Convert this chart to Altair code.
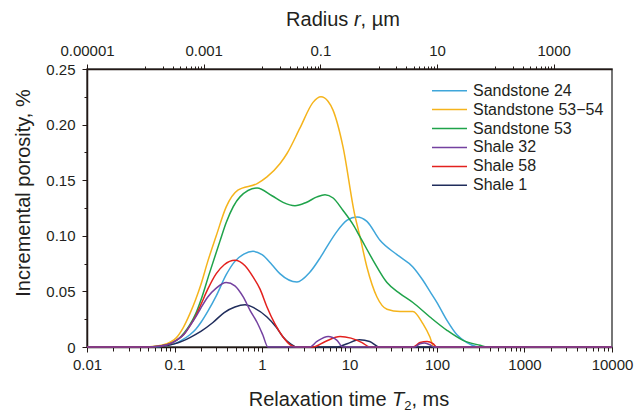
import altair as alt
import pandas as pd

FONT = "Liberation Sans"
INK = "#231f20"

# ---- series (legend order) -------------------------------------------------
series_names = ["Sandstone 24", "Standstone 53\u221254", "Sandstone 53",
                "Shale 32", "Shale 58", "Shale 1"]
series_colors = ["#3fa6da", "#f5b41c", "#1fa34a", "#7441a0", "#e3211e", "#202d5c"]

# T2 relaxation time (ms) and incremental porosity (%) for each sample
sandstone24_t = [0.01, 0.055, 0.07, 0.085, 0.1, 0.12, 0.15, 0.175, 0.2, 0.24, 0.3,
                 0.39, 0.49, 0.62, 0.79, 1.0, 1.3, 1.6, 2.51, 3.5, 4.6, 5.6, 7.2, 9.4,
                 12.2, 15.8, 22.3, 34.9, 53, 69, 83, 100, 130, 169, 220, 280, 320, 10000]
sandstone24_v = [0, 0, 0.0005, 0.0015, 0.003, 0.006, 0.011, 0.016, 0.022, 0.032, 0.046,
                 0.065, 0.077, 0.0835, 0.086, 0.083, 0.074, 0.066, 0.0585, 0.067, 0.080, 0.091, 0.104, 0.114,
                 0.117, 0.113, 0.096, 0.083, 0.072, 0.060, 0.050, 0.040, 0.024, 0.011, 0.004, 0.0005, 0, 0]

standstone5354_t = [0.01, 0.045, 0.06, 0.075, 0.09, 0.104, 0.125, 0.15, 0.175, 0.2, 0.24,
                    0.30, 0.39, 0.53, 0.88, 1.14, 1.61, 1.93, 2.72, 3.83, 4.72, 5.68, 6.48,
                    8.43, 11.4, 13.2, 15.8, 20.6, 26.8, 37.8, 53, 69, 83, 92, 10000]
standstone5354_v = [0, 0, 0.0006, 0.002, 0.0045, 0.008, 0.017, 0.030, 0.043, 0.056, 0.077,
                    0.100, 0.126, 0.141, 0.147, 0.153, 0.165, 0.174, 0.197, 0.220, 0.225, 0.221, 0.213,
                    0.180, 0.120, 0.099, 0.072, 0.045, 0.034, 0.032, 0.032, 0.021, 0.009, 0, 0]

sandstone53_t = [0.01, 0.05, 0.065, 0.08, 0.095, 0.11, 0.13, 0.15, 0.175, 0.2, 0.25,
                 0.33, 0.39, 0.56, 0.88, 1.3, 1.74, 2.38, 3.2, 4.25, 5.25, 6.5, 8.4,
                 11, 13.2, 18.6, 26.8, 37.8, 53, 83, 130, 198, 310, 373, 10000]
sandstone53_v = [0, 0, 0.0006, 0.0018, 0.004, 0.007, 0.013, 0.020, 0.030, 0.042, 0.066,
                 0.095, 0.112, 0.135, 0.143, 0.136, 0.130, 0.127, 0.130, 0.135, 0.137, 0.134, 0.123,
                 0.110, 0.099, 0.078, 0.058, 0.048, 0.040, 0.027, 0.015, 0.006, 0.0015, 0, 0]

shale32_t = [0.01, 0.05, 0.065, 0.08, 0.095, 0.11, 0.13, 0.15, 0.175, 0.2, 0.24, 0.3,
             0.39, 0.49, 0.61, 0.73, 0.88, 1.02, 1.17, 3.5, 4.25, 5.7, 7.2, 8.4,
             55, 64, 72, 83, 92, 10000]
shale32_v = [0, 0, 0.0006, 0.0018, 0.004, 0.007, 0.012, 0.019, 0.027, 0.035, 0.045, 0.053,
             0.058, 0.055, 0.045, 0.033, 0.022, 0.011, 0, 0, 0.005, 0.0095, 0.006, 0,
             0, 0.003, 0.0035, 0.002, 0, 0]

shale58_t = [0.01, 0.05, 0.065, 0.08, 0.095, 0.11, 0.13, 0.15, 0.175, 0.2, 0.24, 0.3,
             0.37, 0.49, 0.64, 0.79, 0.95, 1.14, 1.4, 1.74, 2.1, 2.5, 3.8, 5.3, 7.8,
             10.4, 13.9, 17.1, 53, 64, 77, 90, 100, 10000]
shale58_v = [0, 0, 0.0006, 0.0018, 0.004, 0.007, 0.012, 0.019, 0.028, 0.038, 0.052, 0.066,
             0.074, 0.078, 0.073, 0.063, 0.052, 0.036, 0.021, 0.009, 0.002, 0, 0, 0.005, 0.0095,
             0.008, 0.004, 0, 0, 0.004, 0.005, 0.003, 0, 0]

shale1_t = [0.01, 0.055, 0.075, 0.1, 0.125, 0.15, 0.2, 0.275, 0.37, 0.49, 0.64, 0.82,
            1.14, 1.45, 1.74, 2.1, 2.5, 7.2, 9.4, 13, 17, 22, 10000]
shale1_v = [0, 0, 0.0008, 0.0028, 0.0055, 0.0085, 0.014, 0.022, 0.031, 0.036, 0.038, 0.035,
            0.027, 0.018, 0.009, 0.003, 0, 0, 0.003, 0.0065, 0.005, 0, 0]

# axis ticks
t2_ticks = [k * 10.0 ** d for d in range(-2, 4) for k in range(1, 10)] + [10000.0]
y_ticks = [i * 0.025 for i in range(11)]
radius_domain = [1e-5, 1e4]
radius_ticks = ([1e-5, 1e-3, 1e-1, 10.0, 1000.0]
                + [k * 10.0 ** d for d in (-4, -2, 0, 2) for k in range(1, 10)])

# ---- long table, drawn back to front ---------------------------------------
draw_order = [
    ("Sandstone 24", sandstone24_t, sandstone24_v),
    ("Standstone 53\u221254", standstone5354_t, standstone5354_v),
    ("Sandstone 53", sandstone53_t, sandstone53_v),
    ("Shale 1", shale1_t, shale1_v),
    ("Shale 58", shale58_t, shale58_v),
    ("Shale 32", shale32_t, shale32_v),
]
rows = []
for name, ts, vs in draw_order:
    for t, v in zip(ts, vs):
        rows.append({"series": name, "t": t, "v": v})
df = pd.DataFrame(rows)

color_scale = alt.Scale(domain=series_names, range=series_colors)

LOG10 = "log(datum.value)/LN10"
IS_DECADE = f"abs({LOG10} - round({LOG10})) < 1e-6"
IS_ODD_DECADE = f"{IS_DECADE} && abs(round({LOG10})) % 2 == 1"
IS_Y_MAJOR = "abs(datum.value*20 - round(datum.value*20)) < 1e-6"

curves = alt.Chart(df).mark_line(interpolate="monotone", strokeWidth=1.5).encode(
    x=alt.X("t:Q",
            scale=alt.Scale(type="log", domain=[0.01, 10000]),
            axis=alt.Axis(orient="bottom", title=None, values=t2_ticks, format="~g",
                          labelExpr=f"{IS_DECADE} ? format(datum.value, '~g') : ''",
                          tickSize={"condition": {"test": IS_DECADE, "value": 5}, "value": 4},
                          labelPadding=5, labelFlush=False, labelOverlap=False)),
    y=alt.Y("v:Q",
            scale=alt.Scale(domain=[0, 0.25], nice=False),
            axis=alt.Axis(title=None, values=y_ticks,
                          labelExpr=f"datum.value == 0 ? '0' : ({IS_Y_MAJOR} ? format(datum.value, '.2f') : '')",
                          tickSize={"condition": {"test": IS_Y_MAJOR, "value": 5}, "value": 3},
                          labelPadding=7, labelOverlap=False)),
    color=alt.Color("series:N", scale=color_scale, legend=None),
)

# secondary (pore radius) axis along the top
radius_axis = alt.Chart(pd.DataFrame({"r": radius_domain})).mark_point(opacity=0).encode(
    x=alt.X("r:Q",
            scale=alt.Scale(type="log", domain=radius_domain),
            axis=alt.Axis(orient="top", title=None, values=radius_ticks,
                          labelExpr=f"{IS_ODD_DECADE} ? format(datum.value, '~g') : ''",
                          tickSize={"condition": {"test": IS_ODD_DECADE, "value": 5}, "value": 3},
                          labelPadding=6, labelFlush=False, labelOverlap=False)),
)

# legend: short line + name per sample, rows spread by a point scale
legend_df = pd.DataFrame({"series": series_names})
legend_row = alt.Y("series:N", axis=None,
                   scale=alt.Scale(type="point", domain=series_names, range=[21.7, 116.3], padding=0))
legend_lines = alt.Chart(legend_df).mark_rule(strokeWidth=1.5).encode(
    x=alt.value(345), x2=alt.value(380), y=legend_row,
    color=alt.Color("series:N", scale=color_scale, legend=None),
)
legend_text = alt.Chart(legend_df).mark_text(
    font=FONT, fontSize=16, color=INK, align="left", baseline="middle"
).encode(x=alt.value(386), y=legend_row, text="series:N")


def label(text, x, y, size=20, style="normal", align="left", baseline="alphabetic", angle=0):
    mark = alt.Chart(pd.DataFrame({"s": [text]})).mark_text(
        font=FONT, fontSize=size, fontStyle=style, color=INK,
        align=align, baseline=baseline, angle=angle)
    return mark.encode(text="s:N", x=alt.value(x), y=alt.value(y))


bottom_title = ["Relaxation time", "T", "2", ", ms"]
top_title = ["Radius", "r", ", \u00b5m"]
left_title = "Incremental porosity, %"

titles = [
    label(bottom_title[0], 161.7, 337),
    label(bottom_title[1], 305.1, 337, style="italic"),
    label(bottom_title[2], 317.3, 341, size=13),
    label(bottom_title[3], 324.5, 337),
    label(top_title[0], 199.1, -43),
    label(top_title[1], 266.9, -43, style="italic"),
    label(top_title[2], 273.6, -43),
    label(left_title, -63, 124, align="center", baseline="middle", angle=270),
]

chart = alt.layer(curves, radius_axis, legend_lines, legend_text, *titles).resolve_scale(
    x="independent", y="independent"
).properties(
    width=525, height=278,
    autosize=alt.AutoSizeParams(type="none"),
    padding={"left": 87, "top": 69, "right": 22, "bottom": 68},
).configure_view(
    stroke="#4a4a4a", strokeWidth=1.5
).configure_axis(
    labelFont=FONT, labelFontSize=15, labelColor=INK,
    domainColor="#231815", domainWidth=1.5,
    tickColor="#231815", tickWidth=1, grid=False,
)

chart.save("out.html", embed_options={"renderer": "svg", "actions": False})
